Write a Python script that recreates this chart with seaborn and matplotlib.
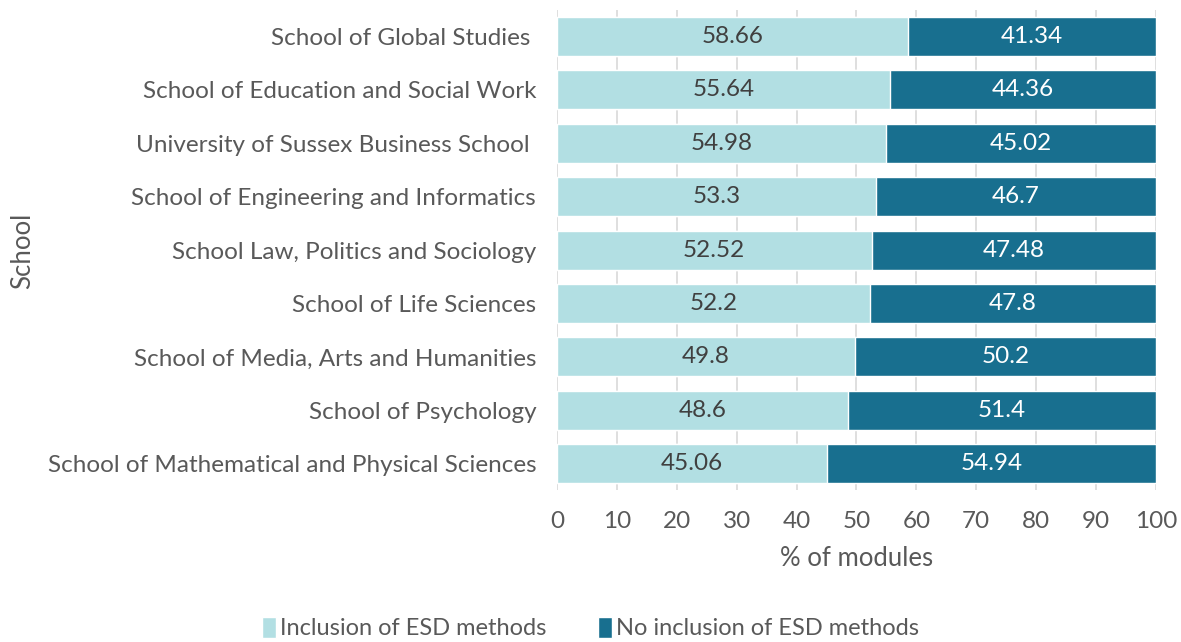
import matplotlib
matplotlib.use("Agg")
import matplotlib.pyplot as plt
import seaborn as sns
import pandas as pd
from matplotlib.patches import Patch

schools = [
    "School of Global Studies ",
    "School of Education and Social Work",
    "University of Sussex Business School ",
    "School of Engineering and Informatics",
    "School Law, Politics and Sociology",
    "School of Life Sciences",
    "School of Media, Arts and Humanities",
    "School of Psychology",
    "School of Mathematical and Physical Sciences",
]
inclusion = [58.66, 55.64, 54.98, 53.3, 52.52, 52.2, 49.8, 48.6, 45.06]
no_inclusion = [41.34, 44.36, 45.02, 46.7, 47.48, 47.8, 50.2, 51.4, 54.94]
x_ticks = [0, 10, 20, 30, 40, 50, 60, 70, 80, 90, 100]
series_names = ["Inclusion of ESD methods", "No inclusion of ESD methods"]

LIGHT = "#B2DFE3"
DARK = "#186F8F"
TEXT = "#595959"

sns.set_theme(style="white")
plt.rcParams["font.family"] = ["Lato", "DejaVu Sans"]

df = pd.DataFrame({"School": schools, "inc": inclusion, "no": no_inclusion})
df["total"] = df["inc"] + df["no"]

fig = plt.figure(figsize=(11.81, 6.42), dpi=100)
ax = fig.add_axes([0.4716, 0.2361, 0.9788 - 0.4716, 0.9847 - 0.2361])

sns.barplot(data=df, y="School", x="total", color=DARK, orient="h",
            width=0.73, ax=ax, saturation=1, zorder=2)
sns.barplot(data=df, y="School", x="inc", color=LIGHT, orient="h",
            width=0.73, ax=ax, saturation=1, zorder=3)

FS = 17.5
for i, (a, b) in enumerate(zip(inclusion, no_inclusion)):
    ax.text(a / 2, i, f"{a:g}", ha="center", va="center", fontsize=FS, color="#404040", zorder=4)
    ax.text(a + b / 2, i, f"{b:g}", ha="center", va="center", fontsize=FS, color="white", zorder=4)

ax.set_xlim(0, 100)
ax.set_ylim(8.5, -0.5)
ax.set_xticks(x_ticks)
ax.set_xticklabels([str(t) for t in x_ticks])
ax.grid(axis="x", color="#D9D9D9", linewidth=1.2, zorder=0)
ax.set_axisbelow(True)
for s in ax.spines.values():
    s.set_visible(False)
ax.tick_params(axis="x", length=6, color="#D9D9D9", width=1.2, labelsize=FS, labelcolor=TEXT, pad=9)
ax.tick_params(axis="y", length=0, labelsize=FS, labelcolor=TEXT, pad=15)
ax.set_xlabel("% of modules", fontsize=18.5, color=TEXT, labelpad=10)
ax.set_ylabel("")
fig.text(0.019, 0.61, "School", rotation=90, ha="center", va="center", fontsize=18.5, color=TEXT)

handles = [Patch(facecolor=LIGHT, label=series_names[0]), Patch(facecolor=DARK, label=series_names[1])]
fig.legend(handles=handles, loc="center", bbox_to_anchor=(0.5, 0.022), ncol=2,
           frameon=False, fontsize=17, labelcolor=TEXT, handlelength=0.6, handleheight=1.0,
           handletextpad=0.15, columnspacing=2.2)

fig.savefig("out.png", dpi=100)
